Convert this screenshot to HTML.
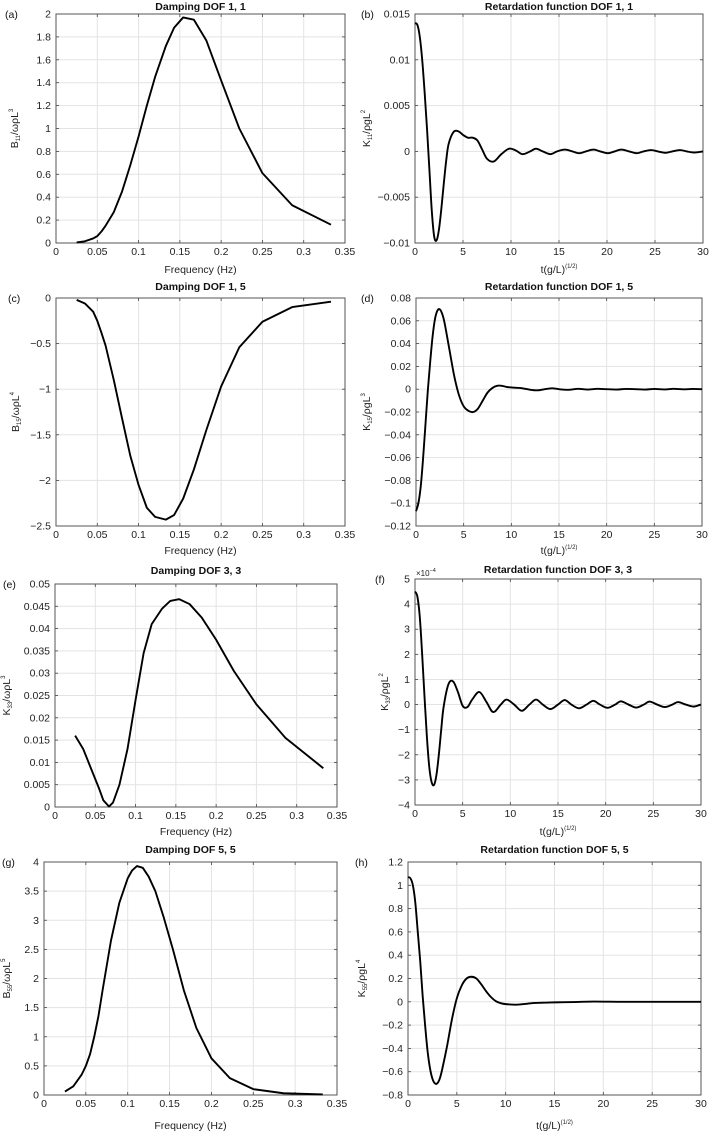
<!DOCTYPE html>
<html><head><meta charset="utf-8">
<style>
html,body{margin:0;padding:0;background:#fff;}
svg{display:block;font-family:"Liberation Sans",Arial,sans-serif;}
</style></head>
<body>
<svg id="fig" width="709" height="1133" viewBox="0 0 709 1133" xmlns="http://www.w3.org/2000/svg"></svg>
<script>
// ---- data ----
const dampFreqA = [0.025,0.035,0.045,0.05,0.055,0.06,0.07,0.08,0.09,0.1,0.11,0.12,0.133,0.143,0.154,0.167,0.182,0.2,0.222,0.25,0.286,0.333];
const dampValsA = [0.005,0.015,0.04,0.06,0.1,0.15,0.27,0.45,0.68,0.93,1.2,1.45,1.72,1.88,1.97,1.95,1.77,1.42,1.0,0.61,0.33,0.16];
const dampFreqC = [0.025,0.035,0.045,0.05,0.055,0.06,0.07,0.08,0.09,0.1,0.11,0.12,0.133,0.143,0.154,0.167,0.182,0.2,0.222,0.25,0.286,0.333];
const dampValsC = [-0.02,-0.06,-0.15,-0.25,-0.38,-0.52,-0.9,-1.32,-1.73,-2.05,-2.3,-2.4,-2.43,-2.38,-2.2,-1.88,-1.45,-0.97,-0.54,-0.26,-0.1,-0.04];
const dampFreqE = [0.025,0.035,0.045,0.055,0.06,0.067,0.072,0.08,0.09,0.1,0.11,0.12,0.133,0.143,0.154,0.167,0.182,0.2,0.222,0.25,0.286,0.333];
const dampValsE = [0.016,0.013,0.0085,0.004,0.0015,0.0001,0.001,0.005,0.013,0.024,0.0345,0.041,0.0445,0.0462,0.0466,0.0455,0.0425,0.0375,0.0305,0.023,0.0155,0.0087];
const dampFreqG = [0.025,0.035,0.04,0.045,0.05,0.055,0.06,0.065,0.07,0.08,0.09,0.1,0.105,0.111,0.118,0.125,0.133,0.143,0.154,0.167,0.182,0.2,0.222,0.25,0.286,0.333];
const dampValsG = [0.06,0.15,0.25,0.35,0.5,0.7,1.0,1.35,1.8,2.65,3.3,3.72,3.85,3.93,3.9,3.75,3.5,3.05,2.5,1.8,1.15,0.63,0.29,0.1,0.03,0.01];

const retTimeB = [0,0.25,0.5,0.75,1,1.25,1.5,1.75,2,2.25,2.5,2.75,3,3.25,3.5,4,4.5,5,5.5,6,6.5,7,7.5,8.2,9,9.8,10.5,11.2,12,12.6,13.3,14.1,14.8,15.6,16.4,17.1,17.8,18.6,19.3,20.1,20.8,21.5,22.3,23.1,23.8,24.6,25.3,26.1,26.8,27.6,28.3,29.1,30];
const retValsB = [0.014,0.0138,0.0125,0.01,0.0065,0.0025,-0.002,-0.0065,-0.0093,-0.0097,-0.0085,-0.0062,-0.0035,-0.001,0.0008,0.0021,0.0022,0.0018,0.0015,0.0015,0.0012,0.0002,-0.0008,-0.0011,-0.0003,0.0003,0.0001,-0.0003,0,0.0003,0,-0.0003,0,0.0002,0,-0.0002,0,0.0002,0,-0.0002,0,0.0002,0,-0.0002,0,0.00015,0,-0.00015,0,0.00015,0,-0.00012,0];
const retTimeD = [0,0.25,0.5,0.75,1,1.25,1.5,1.75,2,2.25,2.5,2.75,3,3.5,4,4.5,5,5.5,6,6.5,7,7.5,8,8.5,9,9.5,10,11,12,12.8,13.5,14.3,15,16,17,18,19,20,21,22,23,24,25,26,27,28,29,30];
const retValsD = [-0.107,-0.1,-0.085,-0.06,-0.03,0,0.025,0.047,0.062,0.069,0.07,0.066,0.058,0.035,0.012,-0.005,-0.015,-0.019,-0.02,-0.017,-0.01,-0.003,0.001,0.003,0.003,0.002,0.0015,0.001,-0.0005,-0.001,0,0.0008,0,-0.0005,0.0003,-0.0003,0.0003,0,-0.0003,0.0002,0,-0.0003,0.0002,-0.0002,0.0003,-0.0001,0.0002,0];
const retTimeF = [0,0.25,0.5,0.75,1,1.25,1.5,1.75,2,2.25,2.5,2.75,3,3.5,4,4.5,5,5.5,6,6.75,7.5,8.2,9,9.6,10.4,11.2,12,12.7,13.4,14.2,15,15.7,16.4,17.2,18,18.7,19.4,20.2,21,21.6,22.4,23.2,24,24.6,25.4,26.2,27,27.6,28.4,29.2,30];
const retValsF = [4.5,4.3,3.5,2.0,0.3,-1.3,-2.5,-3.1,-3.2,-2.8,-2.0,-1.0,-0.1,0.8,0.92,0.5,-0.05,-0.1,0.2,0.5,0.1,-0.3,0,0.2,0,-0.25,0,0.2,0,-0.18,0,0.18,0,-0.15,0,0.15,0,-0.13,0,0.13,0,-0.12,0,0.12,0,-0.1,0,0.1,0,-0.08,0];
const retTimeH = [0,0.25,0.5,0.75,1,1.25,1.5,1.75,2,2.25,2.5,2.75,3,3.25,3.5,4,4.5,5,5.5,6,6.5,7,7.5,8,8.5,9,9.5,10,11,12,13,15,17,19,22,25,30];
const retValsH = [1.07,1.06,1.0,0.85,0.6,0.35,0.05,-0.2,-0.42,-0.57,-0.66,-0.7,-0.7,-0.66,-0.58,-0.38,-0.15,0.03,0.14,0.2,0.215,0.2,0.15,0.09,0.04,0.005,-0.012,-0.02,-0.025,-0.018,-0.01,-0.005,-0.002,0.002,0,0,0];

const freqTicks = [0,0.05,0.1,0.15,0.2,0.25,0.3,0.35];
const freqTickLabels = ["0","0.05","0.1","0.15","0.2","0.25","0.3","0.35"];
const timeTicks = [0,5,10,15,20,25,30];
const timeTickLabels = ["0","5","10","15","20","25","30"];
const yTicksA = [0,0.2,0.4,0.6,0.8,1,1.2,1.4,1.6,1.8,2];
const yLabelsA = ["0","0.2","0.4","0.6","0.8","1","1.2","1.4","1.6","1.8","2"];
const yTicksB = [-0.01,-0.005,0,0.005,0.01,0.015];
const yLabelsB = ["\u22120.01","\u22120.005","0","0.005","0.01","0.015"];
const yTicksC = [-2.5,-2,-1.5,-1,-0.5,0];
const yLabelsC = ["\u22122.5","\u22122","\u22121.5","\u22121","\u22120.5","0"];
const yTicksD = [-0.12,-0.1,-0.08,-0.06,-0.04,-0.02,0,0.02,0.04,0.06,0.08];
const yLabelsD = ["\u22120.12","\u22120.1","\u22120.08","\u22120.06","\u22120.04","\u22120.02","0","0.02","0.04","0.06","0.08"];
const yTicksE = [0,0.005,0.01,0.015,0.02,0.025,0.03,0.035,0.04,0.045,0.05];
const yLabelsE = ["0","0.005","0.01","0.015","0.02","0.025","0.03","0.035","0.04","0.045","0.05"];
const yTicksF = [-4,-3,-2,-1,0,1,2,3,4,5];
const yLabelsF = ["\u22124","\u22123","\u22122","\u22121","0","1","2","3","4","5"];
const yTicksG = [0,0.5,1,1.5,2,2.5,3,3.5,4];
const yLabelsG = ["0","0.5","1","1.5","2","2.5","3","3.5","4"];
const yTicksH = [-0.8,-0.6,-0.4,-0.2,0,0.2,0.4,0.6,0.8,1,1.2];
const yLabelsH = ["\u22120.8","\u22120.6","\u22120.4","\u22120.2","0","0.2","0.4","0.6","0.8","1","1.2"];

const NS = "http://www.w3.org/2000/svg";
const svg = document.getElementById('fig');
function mk(tag, attrs, parent){
  const e = document.createElementNS(NS, tag);
  for (const k in attrs) e.setAttribute(k, attrs[k]);
  (parent||svg).appendChild(e);
  return e;
}

function panel(p){
  const g = mk('g', {});
  
  
  const W = p.r - p.l, H = p.b - p.t;
  const xs = v => p.l + (v - p.xmin) / (p.xmax - p.xmin) * W;
  const ys = v => p.b - (v - p.ymin) / (p.ymax - p.ymin) * H;
  // grid
  p.xt.forEach((v,i) => {
    const X = xs(v);
    if (i>0 && i<p.xt.length-1) { const gl = mk('line',{x1:X,x2:X,y1:p.t,y2:p.b,stroke:'#e3e3e3','stroke-width':1},g);
        }
    mk('line',{x1:X,x2:X,y1:p.b,y2:p.b-3,stroke:'#444','stroke-width':0.8},g);
    mk('line',{x1:X,x2:X,y1:p.t,y2:p.t+3,stroke:'#444','stroke-width':0.8},g);
    const t = mk('text',{x:X,y:p.b+12,'font-size':10.5,'text-anchor':'middle',fill:'#222'},g);
    t.textContent = p.xl[i];
     
  });
  p.yt.forEach((v,i) => {
    const Y = ys(v);
    if (i>0 && i<p.yt.length-1) { const gl = mk('line',{x1:p.l,x2:p.r,y1:Y,y2:Y,stroke:'#e3e3e3','stroke-width':1},g);
        }
    mk('line',{x1:p.l,x2:p.l+3,y1:Y,y2:Y,stroke:'#444','stroke-width':0.8},g);
    mk('line',{x1:p.r,x2:p.r-3,y1:Y,y2:Y,stroke:'#444','stroke-width':0.8},g);
    const t = mk('text',{x:p.l-5,y:Y+3.5,'font-size':10.5,'text-anchor':'end',fill:'#222'},g);
    t.textContent = p.yl[i];
     
  });
  const box = mk('rect',{x:p.l,y:p.t,width:W,height:H,fill:'none',stroke:'#555','stroke-width':1},g);
   
  // curve
  const pts = p.xs.map((x,i)=>[xs(x), ys(p.ys[i])]);
  let d = 'M' + pts[0][0].toFixed(2) + ',' + pts[0][1].toFixed(2);
  if (p.smooth) {
    for (let i=0;i<pts.length-1;i++){
      const p0 = pts[Math.max(0,i-1)], p1 = pts[i], p2 = pts[i+1], p3 = pts[Math.min(pts.length-1,i+2)];
      const c1 = [p1[0]+(p2[0]-p0[0])/6, p1[1]+(p2[1]-p0[1])/6];
      const c2 = [p2[0]-(p3[0]-p1[0])/6, p2[1]-(p3[1]-p1[1])/6];
      d += 'C'+c1[0].toFixed(2)+','+c1[1].toFixed(2)+' '+c2[0].toFixed(2)+','+c2[1].toFixed(2)+' '+p2[0].toFixed(2)+','+p2[1].toFixed(2);
    }
  } else {
    for (let i=1;i<pts.length;i++) d += 'L'+pts[i][0].toFixed(2)+','+pts[i][1].toFixed(2);
  }
  const path = mk('path',{d:d,fill:'none',stroke:'#000','stroke-width':1.9,'stroke-linejoin':'round'},g);
   
  // title
  const tt = mk('text',{x:(p.l+p.r)/2,y:p.ty,'font-size':10.5,'font-weight':'bold','text-anchor':'middle',fill:'#111'},g);
  tt.textContent = p.title;
   
  // panel letter
  const pl = mk('text',{x:p.lx,y:p.t+4,'font-size':10.5,fill:'#111'},g);
  pl.textContent = '(' + p.id + ')';
   
  // x label
  const xl = mk('text',{x:(p.l+p.r)/2,y:p.xly,'font-size':10.5,'text-anchor':'middle',fill:'#222'},g);
   
  if (p.freq) xl.textContent = 'Frequency (Hz)';
  else { xl.textContent = 't(g/L)'; const s = mk('tspan',{'font-size':6,dy:-5},xl); s.textContent='(1/2)'; }
  // y label
  const cy = (p.t+p.b)/2;
  const yl = mk('text',{x:0,y:0,'font-size':10.5,'text-anchor':'middle',fill:'#222',transform:'translate('+p.ylx+','+cy+') rotate(-90)'},g);
   
  const a = mk('tspan',{},yl); a.textContent = p.yvar;
  const b = mk('tspan',{'font-size':6,dy:2},yl); b.textContent = p.sub;
  const c = mk('tspan',{dy:-2},yl); c.textContent = p.freq ? '/\u03C9\u03C1L' : '/\u03C1gL';
  const e = mk('tspan',{'font-size':6,dy:-5},yl); e.textContent = p.sup;
  if (p.exp) {
    const ex = mk('text',{x:p.l+1,y:p.t-3,'font-size':8,fill:'#222'},g);
    ex.textContent = '\u00D710';
    const es = mk('tspan',{'font-size':5.5,dy:-4},ex); es.textContent='\u22124';
     
  }
}

panel({id:'a',l:56,r:345,t:14,b:243,xmin:0,xmax:0.35,ymin:0,ymax:2,xt:freqTicks,xl:freqTickLabels,yt:yTicksA,yl:yLabelsA,xs:dampFreqA,ys:dampValsA,smooth:false,freq:true,title:'Damping DOF 1, 1',ty:10,lx:5,xly:273,ylx:18,yvar:'B',sub:'11',sup:'3'});
panel({id:'b',l:415,r:703,t:14,b:243,xmin:0,xmax:30,ymin:-0.01,ymax:0.015,xt:timeTicks,xl:timeTickLabels,yt:yTicksB,yl:yLabelsB,xs:retTimeB,ys:retValsB,smooth:true,freq:false,title:'Retardation function DOF 1, 1',ty:10,lx:361,xly:273,ylx:370,yvar:'K',sub:'11',sup:'2'});
panel({id:'c',l:56,r:345,t:298,b:526,xmin:0,xmax:0.35,ymin:-2.5,ymax:0,xt:freqTicks,xl:freqTickLabels,yt:yTicksC,yl:yLabelsC,xs:dampFreqC,ys:dampValsC,smooth:false,freq:true,title:'Damping DOF 1, 5',ty:290,lx:8,xly:554,ylx:19,yvar:'B',sub:'15',sup:'4'});
panel({id:'d',l:416,r:702,t:298,b:526,xmin:0,xmax:30,ymin:-0.12,ymax:0.08,xt:timeTicks,xl:timeTickLabels,yt:yTicksD,yl:yLabelsD,xs:retTimeD,ys:retValsD,smooth:true,freq:false,title:'Retardation function DOF 1, 5',ty:290,lx:361,xly:554,ylx:370,yvar:'K',sub:'15',sup:'3'});
panel({id:'e',l:55,r:337,t:584,b:807,xmin:0,xmax:0.35,ymin:0,ymax:0.05,xt:freqTicks,xl:freqTickLabels,yt:yTicksE,yl:yLabelsE,xs:dampFreqE,ys:dampValsE,smooth:false,freq:true,title:'Damping DOF 3, 3',ty:574,lx:3,xly:835,ylx:10,yvar:'K',sub:'33',sup:'3'});
panel({id:'f',l:415,r:701,t:579,b:805,xmin:0,xmax:30,ymin:-4,ymax:5,xt:timeTicks,xl:timeTickLabels,yt:yTicksF,yl:yLabelsF,xs:retTimeF,ys:retValsF,smooth:true,freq:false,title:'Retardation function DOF 3, 3',ty:573,lx:375,xly:835,ylx:388,yvar:'K',sub:'33',sup:'2',exp:true});
panel({id:'g',l:44,r:337,t:862,b:1095,xmin:0,xmax:0.35,ymin:0,ymax:4,xt:freqTicks,xl:freqTickLabels,yt:yTicksG,yl:yLabelsG,xs:dampFreqG,ys:dampValsG,smooth:false,freq:true,title:'Damping DOF 5, 5',ty:853,lx:2,xly:1129,ylx:10,yvar:'B',sub:'55',sup:'5'});
panel({id:'h',l:408,r:701,t:862,b:1095,xmin:0,xmax:30,ymin:-0.8,ymax:1.2,xt:timeTicks,xl:timeTickLabels,yt:yTicksH,yl:yLabelsH,xs:retTimeH,ys:retValsH,smooth:true,freq:false,title:'Retardation function DOF 5, 5',ty:853,lx:355,xly:1129,ylx:365,yvar:'K',sub:'55',sup:'4'});
</script>
</body></html>
